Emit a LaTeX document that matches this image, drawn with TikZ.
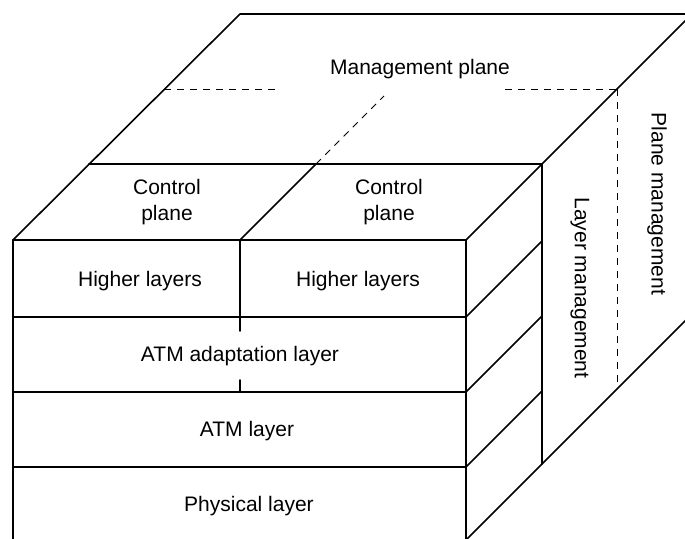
\documentclass[tikz,border=0pt]{standalone}
\usepackage{fontspec}
\setmainfont{Liberation Sans}
\begin{document}
\begin{tikzpicture}[x=1pt,y=-1pt,
  edge/.style={line width=1.6pt, line cap=round, line join=round},
  hidden/.style={line width=0.8pt, dash pattern=on 7pt off 6pt},
  lbl/.style={inner sep=0pt, font=\fontsize{21}{26}\selectfont, align=center}]
\useasboundingbox (0,0) rectangle (685,538);
\clip (0,0) rectangle (685,538);
% coordinates
\coordinate (fl) at (13,240);
\coordinate (fm) at (240,240);
\coordinate (fr) at (466,240);
\coordinate (flb) at (13,548);
\coordinate (frb) at (466,548);
\coordinate (tl) at (240,14);
\coordinate (tr) at (720,14);
\coordinate (cl) at (89,164);
\coordinate (cm) at (316,164);
\coordinate (cr) at (542,164);
\coordinate (rtop) at (692,14);
\coordinate (rb) at (542,464);
\coordinate (ob1) at (466,540);
\coordinate (ob2) at (720,286);
% front face
\draw[edge] (flb) -- (fl) -- (fr) -- (frb);
\draw[edge] (13,317) -- (466,317);
\draw[edge] (13,392) -- (466,392);
\draw[edge] (13,467) -- (466,467);
\draw[edge] (fm) -- (240,331);
\draw[edge] (240,380) -- (240,392);
% top
\draw[edge] (fl) -- (tl) -- (tr);
\draw[edge] (fr) -- (rtop);
\draw[edge] (cl) -- (cr);
\draw[edge] (fm) -- (cm);
% right side
\draw[edge] (cr) -- (rb);
\draw[edge] (466,317) -- (542,241);
\draw[edge] (466,392) -- (542,316);
\draw[edge] (466,467) -- (542,391);
\draw[edge] (ob1) -- (ob2);
% hidden lines
\draw[hidden] (164,89) -- (280,89);
\draw[hidden] (505,89) -- (617,89);
\draw[hidden] (617,89) -- (617,388);
\draw[hidden] (cm) -- (384,96);
% labels
\node[lbl] (mp) at (420,69) {Management plane};
\node[lbl] (cp1) at (167,202) {Control\\plane};
\node[lbl] (cp2) at (389,202) {Control\\plane};
\node[lbl] (hl1) at (140,281) {Higher layers};
\node[lbl] (hl2) at (358,281) {Higher layers};
\node[lbl] (aal) at (240,356) {ATM adaptation layer};
\node[lbl] (atm) at (247,431) {ATM layer};
\node[lbl] (phy) at (249,506) {Physical layer};
\node[lbl, rotate=-90] (lm) at (580,288) {Layer management};
\node[lbl, rotate=-90] (pm) at (657,204) {Plane management};
\end{tikzpicture}
\end{document}
